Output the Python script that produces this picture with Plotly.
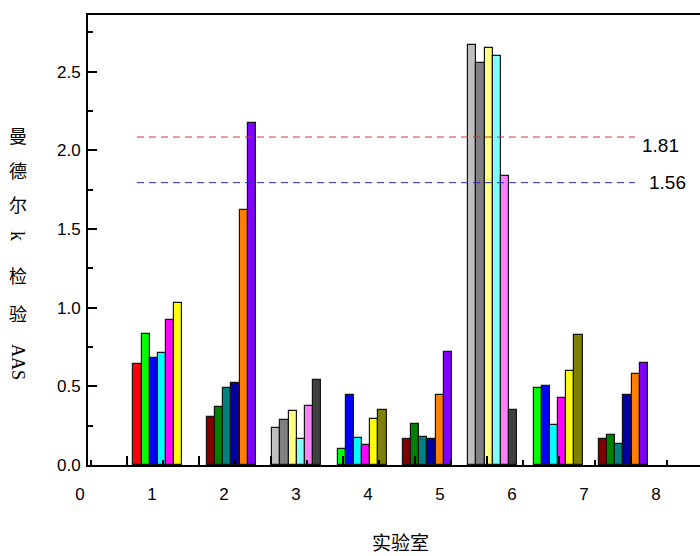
import plotly.graph_objects as go

# ---------------- data ----------------
labs = [1, 2, 3, 4, 5, 6, 7, 8]
# first colour slot (Origin colour index) used by each lab's run of bars
lab_first_slot = [1, 10, 18, 2, 10, 18, 2, 10]
lab_values = [
    [0.640, 0.831, 0.682, 0.714, 0.922, 1.030],
    [0.305, 0.369, 0.488, 0.521, 1.621, 2.176],
    [0.233, 0.284, 0.343, 0.165, 0.375, 0.538],
    [0.100, 0.447, 0.174, 0.127, 0.292, 0.350],
    [0.163, 0.259, 0.180, 0.163, 0.447, 0.720],
    [2.668, 2.554, 2.649, 2.598, 1.835, 0.350],
    [0.488, 0.502, 0.256, 0.424, 0.600, 0.829],
    [0.163, 0.189, 0.135, 0.445, 0.577, 0.647],
]
x_tick_labels = ["0", "1", "2", "3", "4", "5", "6", "7", "8"]
crit_values = [2.085, 1.795]
crit_labels = ["1.81", "1.56"]
y_title_parts = ["曼", "德", "尔", "k", "检", "验", "AAS"]
x_title = "实验室"

# Origin default 24-colour cycle (style)
palette = ["#000000", "#FF0000", "#00FF00", "#0000FF", "#00FFFF", "#FF00FF",
           "#FFFF00", "#808000", "#000080", "#800080", "#800000", "#008000",
           "#008080", "#0000A0", "#FF8000", "#8000FF", "#FF0080", "#FFFFFF",
           "#C0C0C0", "#808080", "#FFFF80", "#80FFFF", "#FF80FF", "#404040"]

# ---------------- layout geometry ----------------
W, H = 700, 556
PX0, U = 80.0, 72.0          # pixel of x=0, pixels per x unit
PLOT_L, PLOT_T, PLOT_B = 88.0, 15.0, 465.0
Y_PER = 157.3                # pixels per y unit

def px_to_x(px):
    return (px - PX0) / U

CYCLE = 196.0 / U            # 24 colour slots per cycle, 3 labs per cycle
SLOT = CYCLE / 24.0
X_START = px_to_x(125.2)

fig = go.Figure()

for i, lab in enumerate(labs):
    cyc = (lab - 1) // 3
    xs, cols = [], []
    for k, v in enumerate(lab_values[i]):
        s = lab_first_slot[i] + k
        xs.append(X_START + cyc * CYCLE + (s + 0.5) * SLOT)
        cols.append(palette[s])
    fig.add_trace(go.Bar(
        x=xs, y=lab_values[i], width=SLOT,
        marker=dict(color=cols, line=dict(color="#151515", width=1.2)),
        showlegend=False, hoverinfo="y",
    ))

line_cols = ["#d03434", "#2a2ab8"]
x_line = [px_to_x(137), px_to_x(635)]
for v, c in zip(crit_values, line_cols):
    fig.add_trace(go.Scatter(
        x=x_line, y=[v, v], mode="lines",
        line=dict(color=c, width=1, dash="7px,5px"),
        showlegend=False, hoverinfo="skip",
    ))

# dummy trace so the label axis exists
fig.add_trace(go.Scatter(x=[None], y=[None], xaxis="x2", yaxis="y",
                         showlegend=False, hoverinfo="skip"))

FONT = "Liberation Sans, Arial, sans-serif"
y_top = (PLOT_B - PLOT_T) / Y_PER

fig.update_layout(
    width=W, height=H,
    margin=dict(l=0, r=0, t=0, b=0, autoexpand=False),
    paper_bgcolor="white", plot_bgcolor="rgba(0,0,0,0)",
    font=dict(family=FONT, size=17, color="black"),
    bargap=0,
    xaxis=dict(
        domain=[PLOT_L / W, 1.0], automargin=False,
        range=[px_to_x(PLOT_L), px_to_x(W)],
        showgrid=False, zeroline=False,
        showline=True, linecolor="black", linewidth=2, mirror=True,
        ticks="inside", ticklen=9, tickwidth=1.5, tickcolor="black",
        tickmode="array", tickvals=[n + 0.65 for n in range(9)],
        showticklabels=False,
        minor=dict(ticks="inside", ticklen=5, tickwidth=1.5, tickcolor="black",
                   tickmode="array", tickvals=[n + 0.15 for n in range(9)]),
    ),
    xaxis2=dict(
        domain=[70.0 / W, 1.0], anchor="y", automargin=False,
        range=[px_to_x(70), px_to_x(W)],
        showgrid=False, zeroline=False, showline=False, ticks="",
        tickmode="array", tickvals=list(range(9)), ticktext=x_tick_labels,
        ticklabelstandoff=17,
        tickfont=dict(family=FONT, size=17, color="black"),
    ),
    yaxis=dict(
        domain=[(H - PLOT_B) / H, (H - PLOT_T) / H], automargin=False,
        range=[0, y_top],
        showgrid=False, zeroline=False,
        showline=True, linecolor="black", linewidth=2,
        ticks="inside", ticklen=9, tickwidth=1.5, tickcolor="black",
        tick0=0, dtick=0.5, tickformat=".1f",
        ticklabelstandoff=2,
        minor=dict(ticks="inside", ticklen=5, tickwidth=1.5, tickcolor="black",
                   dtick=0.25),
        tickfont=dict(family=FONT, size=17, color="black"),
    ),
)

# labels for the critical lines
lab_pos = [(640, 2.034), (647, 1.793)]
for (px, yv), t in zip(lab_pos, crit_labels):
    fig.add_annotation(x=px_to_x(px), y=yv, xref="x", yref="y", text=t,
                       showarrow=False, xanchor="left", yanchor="middle",
                       font=dict(family=FONT, size=19, color="black"))

# vertical y-axis title
title_py = [135, 170, 204, 236, 275, 313, 362]
for t, py in zip(y_title_parts, title_py):
    latin = t.isascii()
    fig.add_annotation(
        x=18.0 / W, y=1 - py / H, xref="paper", yref="paper", text=t,
        showarrow=False, xanchor="center", yanchor="middle",
        textangle=90 if latin else 0,
        font=dict(family="Liberation Serif, serif" if latin else "Noto Sans CJK SC",
                  size=20 if t == "k" else 18, color="black"))

fig.add_annotation(x=400.0 / W, y=1 - 541.0 / H, xref="paper", yref="paper",
                   text=x_title, showarrow=False, xanchor="center", yanchor="middle",
                   font=dict(family="Noto Sans CJK SC", size=19, color="black"))

fig.write_html("out.html")
